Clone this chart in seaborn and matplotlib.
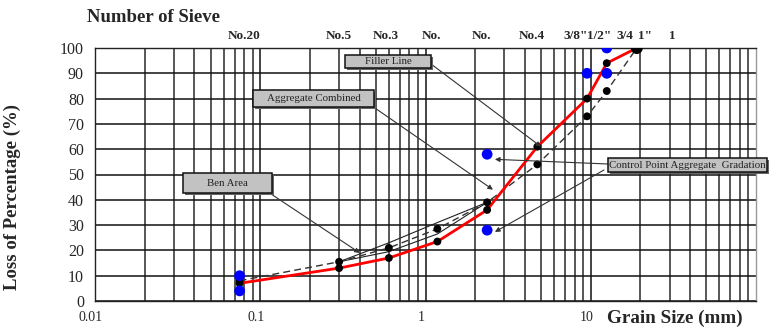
import numpy as np
import pandas as pd
import seaborn as sns
import matplotlib
matplotlib.use("Agg")
import matplotlib.pyplot as plt
from matplotlib.patches import Rectangle
from matplotlib.ticker import LogLocator, NullFormatter, FixedLocator
import matplotlib.transforms as mtransforms

# ---------------- data ----------------
sieve_mm = [0.075, 0.3, 0.6, 1.18, 2.36, 4.75, 9.5, 12.5, 19.0]
aggregate_combined = [7, 13, 17, 23.5, 36, 61, 80, 94, 100]
filler_line = [8, 15.5, 21, 28.5, 39, 54, 73, 83, 100]
ben_sieves = [0.3, 0.6, 1.18, 2.36]
ben_upper = [15.5, 23, 31, 39]
ben_lower = [15.5, 19.5, 26.5, 39]
control_x = [0.075, 0.075, 2.36, 2.36, 9.5, 12.5, 12.5]
control_y = [10, 4, 58, 28, 90, 100, 90]
sieve_names = ['No.20', 'No.5', 'No.3', 'No.', 'No.', 'No.4', '3/8"', '1/2"', '3/4', '1"', '1']
sieve_name_x = [0.0796, 0.30, 0.575, 1.09, 2.19, 4.40, 8.1, 11.3, 16.2, 21.3, 31]
xtick_vals = [0.01, 0.1, 1, 10]
xtick_labels = ['0.01', '0.1', '1', '10']
ytick_vals = list(range(0, 101, 10))

# annotation labels, targets (data)
ann_labels = ['Filler Line', 'Aggregate Combined', 'Ben Area', 'Control Point Aggregate  Gradation']
ann_targets = [[(5.0, 61)], [(2.56, 44)], [(0.40, 19)], [(2.63, 56), (2.63, 27.3)]]

# ---------------- style ----------------
sns.set_style("white")
plt.rcParams['font.family'] = ['Liberation Serif', 'DejaVu Serif']

W, H = 769, 328
fig = plt.figure(figsize=(W / 100, H / 100), dpi=100)
L, R, T, B = 95, 756, 48, 301
ax = fig.add_axes([L / W, 1 - B / H, (R - L) / W, (B - T) / H])

ax.set_xscale('log')
ax.set_xlim(0.01, 100)
ax.set_ylim(0, 100)

# grid
ax.xaxis.set_major_locator(FixedLocator([0.01, 0.1, 1, 10, 100]))
ax.xaxis.set_minor_locator(LogLocator(base=10, subs=np.arange(2, 10)))
ax.xaxis.set_minor_formatter(NullFormatter())
ax.set_xticks(xtick_vals, xtick_labels)
ax.set_yticks(ytick_vals)
ax.grid(which='major', axis='both', color='#111111', lw=1.1)
ax.grid(which='minor', axis='x', color='#2a2a2a', lw=1.1)
ax.set_axisbelow(True)
for s in ax.spines.values():
    s.set_color('#222222')
    s.set_linewidth(1.0)
ax.spines['right'].set_color('#999999')
ax.tick_params(which='both', length=0)
ax.tick_params(axis='x', pad=7, labelsize=10)
ax.tick_params(axis='y', pad=8, labelsize=11.5)
shift = mtransforms.ScaledTranslation(-4 / 100, 0, fig.dpi_scale_trans)
for lbl in ax.get_xticklabels():
    lbl.set_transform(lbl.get_transform() + shift)

# restricted zone (Ben Area)
sns.lineplot(x=ben_sieves, y=ben_upper, ax=ax, color='#222222', lw=0.8, zorder=3)
sns.lineplot(x=ben_sieves, y=ben_lower, ax=ax, color='#222222', lw=0.8, zorder=3)
# filler line (dashed)
sns.lineplot(x=sieve_mm, y=filler_line, ax=ax, color='#333333', lw=1.0,
             linestyle=(0, (5, 3)), zorder=3)
# aggregate combined
sns.lineplot(x=sieve_mm, y=aggregate_combined, ax=ax, color='red', lw=2.0, zorder=4)
# points
sns.scatterplot(x=sieve_mm[:-1], y=filler_line[:-1], ax=ax, color='black', s=32,
                edgecolor='none', zorder=5)
sns.scatterplot(x=sieve_mm[:-1], y=aggregate_combined[:-1], ax=ax, color='black', s=32,
                edgecolor='none', zorder=5)
sns.scatterplot(x=sieve_mm[-1:], y=aggregate_combined[-1:], ax=ax, color='black', s=75,
                edgecolor='none', zorder=5)
sns.scatterplot(x=control_x, y=control_y, ax=ax, color='blue', s=60,
                edgecolor='none', zorder=6)

ax.set_xlabel('')
ax.set_ylabel('Loss of Percentage (%)', fontsize=13.5, fontweight='bold')
ax.yaxis.set_label_coords(-0.112, 0.41)

# sieve names above
trans = mtransforms.blended_transform_factory(ax.transData, ax.transAxes)
for nm, xv in zip(sieve_names, sieve_name_x):
    ax.text(xv, 1.047, nm, transform=trans, ha='center', va='center',
            fontsize=9.5, fontweight='bold')

fig.text(87 / W, 1 - 17 / H, 'Number of Sieve', ha='left', va='center',
         fontsize=13.5, fontweight='bold')
fig.text(607 / W, 1 - 318 / H, 'Grain Size (mm)', ha='left', va='center',
         fontsize=13.8, fontweight='bold')

# annotation boxes (pixel geometry, top-left origin)
boxes = [(345, 55, 431, 68), (253, 90, 374, 107), (183, 173, 272, 193), (608, 158, 767, 172)]
starts = [[(431, 64)], [(372, 106)], [(262, 188)], [(608, 164), (604, 170)]]
for lab, (x0, y0, x1, y1), st, tg in zip(ann_labels, boxes, starts, ann_targets):
    for (sx, sy), (tx, ty) in zip(st, tg):
        ax.annotate('', xy=(tx, ty), xycoords='data',
                    xytext=(sx, H - sy), textcoords='figure pixels',
                    arrowprops=dict(arrowstyle='-|>', color='#333333', lw=0.8,
                                    mutation_scale=7, shrinkA=0, shrinkB=0),
                    zorder=7, annotation_clip=False)
    shadow = Rectangle((x0 + 2, H - y1 - 2), x1 - x0, y1 - y0, transform=None,
                       facecolor='#666666', edgecolor='none', zorder=8)
    box = Rectangle((x0, H - y1), x1 - x0, y1 - y0, transform=None,
                    facecolor='#c2c2c2', edgecolor='#111111', lw=1.1, zorder=9)
    fig.patches.extend([shadow, box])
    fig.text((x0 + x1) / 2 / W, 1 - (y0 + y1) / 2 / H, lab, ha='center', va='center',
             fontsize=7.8, color='#222222', zorder=10)

fig.savefig('out.png', dpi=100)
